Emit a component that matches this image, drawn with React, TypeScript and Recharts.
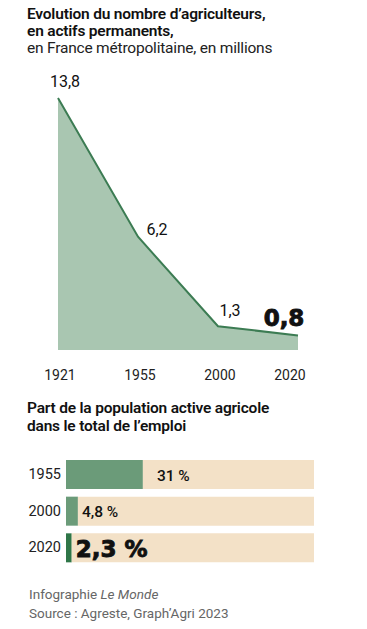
import React from 'react';
import { AreaChart, Area, XAxis, YAxis, BarChart, Bar, LabelList } from 'recharts';

// Nombre d'agriculteurs (millions)
const years = ['1921', '1955', '2000', '2020'];
const farmers = [13.8, 6.2, 1.3, 0.8];
const farmerLabels = ['13,8', '6,2', '1,3', '0,8'];

// Part de la population active agricole (%)
const shareYears = ['1955', '2000', '2020'];
const shares = [31, 4.8, 2.3];
const shareLabels = ['31 %', '4,8 %', '2,3 %'];

const areaData = years.map((y, i) => ({ year: y, value: farmers[i], label: farmerLabels[i] }));
const barData = shareYears.map((y, i) => ({ year: y, share: shares[i], rest: 100 - shares[i], label: shareLabels[i] }));

const FONT = 'Roboto, "Noto Sans", sans-serif';
const HEAVY = '"DejaVu Sans", sans-serif';
const GREEN_LINE = '#3c7c53';
const GREEN_FILL = '#a9c6b1';
const GREEN_BAR = '#6b9b79';
const GREEN_DARK = '#2f7648';
const BEIGE = '#f3e1c7';

// label offsets relative to each point (style only)
const areaLabelOffsets = [
  { dx: 7, dy: -17 },
  { dx: 19, dy: -7 },
  { dx: 12, dy: -16 },
  { dx: -14, dy: -17 },
];

const AreaValueLabel = (props: any) => {
  const { x, y, index, value } = props;
  const o = areaLabelOffsets[index];
  const last = index === years.length - 1;
  return (
    <text
      x={x + o.dx}
      y={y + o.dy}
      textAnchor="middle"
      dominantBaseline="central"
      fontFamily={last ? HEAVY : FONT}
      fontWeight={last ? 900 : 400}
      fontSize={last ? 23 : 16}
      stroke={last ? '#111' : 'none'}
      strokeWidth={last ? 0.9 : 0}
      fill="#111"
    >
      {value}
    </text>
  );
};

const YearTick = (props: any) => {
  const { x, y, payload, index } = props;
  const dx = index === years.length - 1 ? -8 : 2;
  return (
    <text x={x + dx} y={y + 17} textAnchor="middle" dominantBaseline="central" fontFamily={FONT} fontSize={14} fill="#222">
      {payload.value}
    </text>
  );
};

const ShareTick = (props: any) => {
  const { x, y, payload } = props;
  return (
    <text x={x + 3} y={y} textAnchor="end" dominantBaseline="central" fontFamily={FONT} fontSize={14.5} fill="#222">
      {payload.value}
    </text>
  );
};

const ShareLabel = (props: any) => {
  const { x, y, width, height, index, value } = props;
  const last = index === shareYears.length - 1;
  const gap = index === 0 ? 14 : 4;
  return (
    <text
      x={x + width + gap}
      y={y + height / 2 + 1}
      dominantBaseline="central"
      fontFamily={last ? HEAVY : FONT}
      fontWeight={last ? 900 : 500}
      fontSize={last ? 23 : 15.5}
      stroke={last ? '#111' : 'none'}
      strokeWidth={last ? 0.9 : 0}
      fill="#111"
    >
      {value}
    </text>
  );
};

const App: React.FC = () => {
  return (
    <div style={{ position: 'absolute', left: 0, top: 0, width: 367, height: 629, background: '#fff', fontFamily: FONT, color: '#111' }}>
      <div style={{ position: 'absolute', left: 27, top: 6, fontSize: 15.5, lineHeight: '17px', letterSpacing: -0.2 }}>
        <div style={{ fontWeight: 600 }}>Evolution du nombre d’agriculteurs,</div>
        <div style={{ fontWeight: 600 }}>en actifs permanents,</div>
        <div style={{ fontWeight: 400, color: '#222' }}>en France métropolitaine, en millions</div>
      </div>

      <div style={{ position: 'absolute', left: 0, top: 60 }}>
        <AreaChart width={367} height={330} data={areaData} margin={{ top: 38, right: 69, bottom: 0, left: 58 }}>
          <XAxis dataKey="year" axisLine={false} tickLine={false} tick={<YearTick />} interval={0} height={40} />
          <YAxis hide domain={[0, 13.8]} />
          <Area
            type="linear"
            dataKey="value"
            stroke={GREEN_LINE}
            strokeWidth={2}
            fill={GREEN_FILL}
            fillOpacity={1}
            isAnimationActive={false}
          >
            <LabelList dataKey="label" content={<AreaValueLabel />} />
          </Area>
        </AreaChart>
      </div>

      <div style={{ position: 'absolute', left: 27, top: 399, fontSize: 15.5, lineHeight: '18px', fontWeight: 600, letterSpacing: -0.2 }}>
        <div>Part de la population active agricole</div>
        <div>dans le total de l’emploi</div>
      </div>

      <div style={{ position: 'absolute', left: 0, top: 456 }}>
        <BarChart
          layout="vertical"
          width={367}
          height={110}
          data={barData}
          margin={{ top: 0, right: 53, bottom: 0, left: 0 }}
          barCategoryGap={4}
        >
          <XAxis type="number" domain={[0, 100]} hide />
          <YAxis type="category" dataKey="year" width={66} axisLine={false} tickLine={false} tick={<ShareTick />} />
          <Bar dataKey="share" stackId="a" isAnimationActive={false} fill={GREEN_BAR} shape={(p: any) => (
            <rect x={p.x} y={p.y} width={p.width} height={p.height} fill={p.index === 2 ? GREEN_DARK : GREEN_BAR} />
          )}>
            <LabelList dataKey="label" content={<ShareLabel />} />
          </Bar>
          <Bar dataKey="rest" stackId="a" fill={BEIGE} isAnimationActive={false} />
        </BarChart>
      </div>

      <div style={{ position: 'absolute', left: 29, top: 585, fontSize: 13.5, lineHeight: '19px', color: '#666' }}>
        <div>Infographie <i>Le Monde</i></div>
        <div>Source : Agreste, Graph’Agri 2023</div>
      </div>
    </div>
  );
};

export default App;
